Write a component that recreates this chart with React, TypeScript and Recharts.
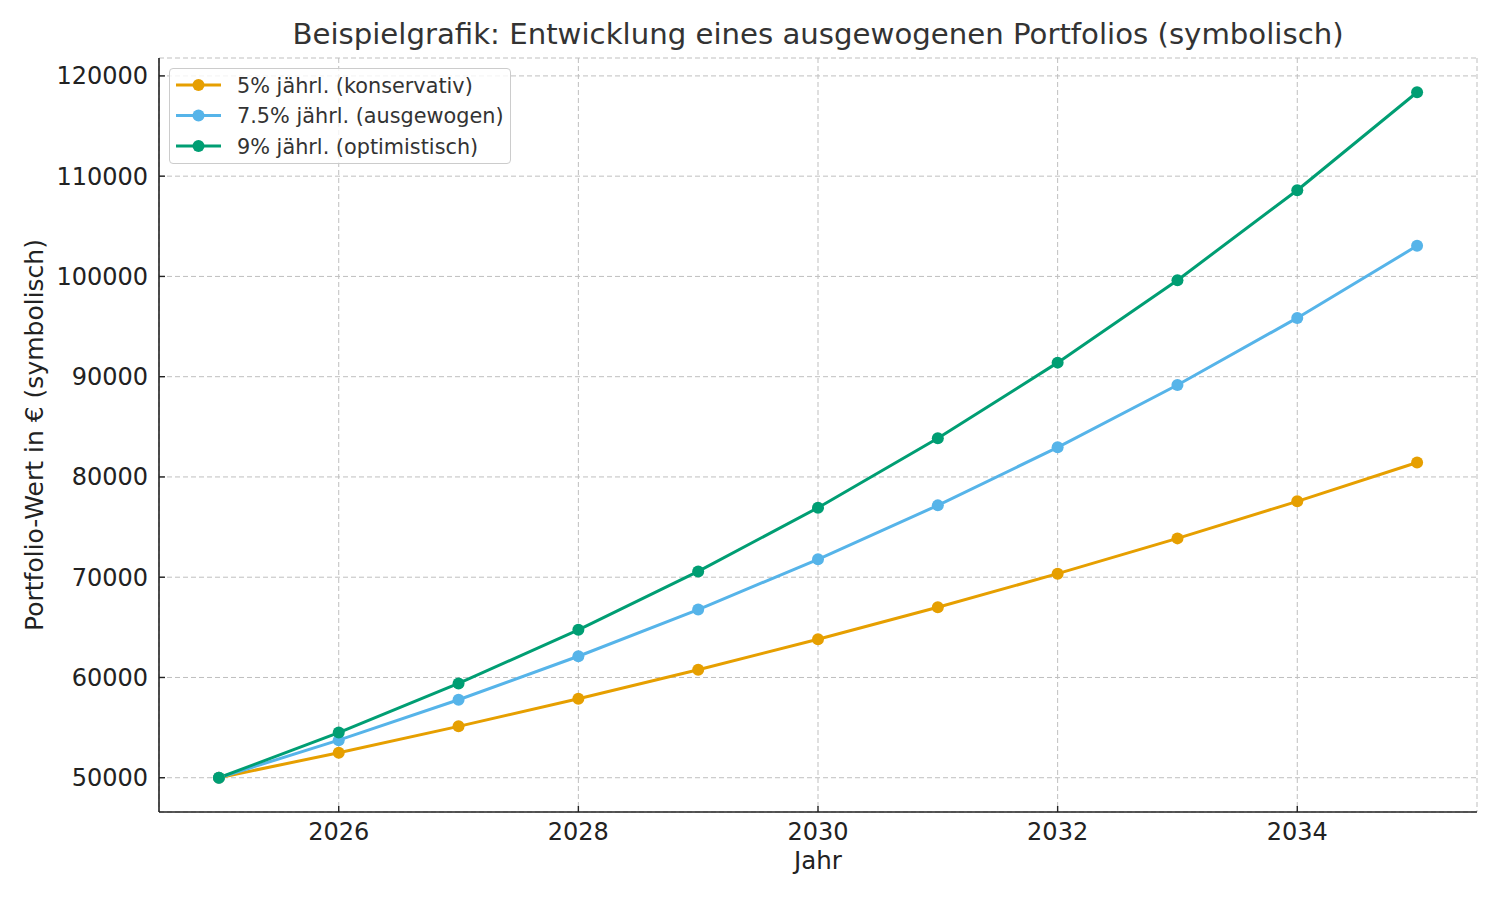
import React from "react";
import { LineChart, Line, XAxis, YAxis, CartesianGrid, Legend, Label } from "recharts";

const years = [2025, 2026, 2027, 2028, 2029, 2030, 2031, 2032, 2033, 2034, 2035];
const conservative = [50000, 52500, 55125, 57881, 60775, 63814, 67005, 70355, 73873, 77566, 81445];
const balanced = [50000, 53750, 57781, 62115, 66773, 71781, 77165, 82952, 89174, 95862, 103051];
const optimistic = [50000, 54500, 59405, 64751, 70579, 76931, 83855, 91402, 99628, 108595, 118368];

const xTicks = [2026, 2028, 2030, 2032, 2034];
const yTicks = [50000, 60000, 70000, 80000, 90000, 100000, 110000, 120000];

const seriesNames = ["5% jährl. (konservativ)", "7.5% jährl. (ausgewogen)", "9% jährl. (optimistisch)"];
const seriesKeys = ["conservative", "balanced", "optimistic"];
const seriesColors = ["#E69F00", "#56B4E9", "#009E73"];

const title = "Beispielgrafik: Entwicklung eines ausgewogenen Portfolios (symbolisch)";
const xLabel = "Jahr";
const yLabel = "Portfolio-Wert in € (symbolisch)";

const data = years.map((year, i) => ({
  year,
  conservative: conservative[i],
  balanced: balanced[i],
  optimistic: optimistic[i],
}));

const FONT = "'DejaVu Sans', sans-serif";

const LegendBox = () => (
  <div
    style={{
      width: 340,
      height: 94,
      border: "1px solid #cccccc",
      borderRadius: 4,
      background: "rgba(255,255,255,0.8)",
      boxSizing: "content-box",
    }}
  >
    <svg width={340} height={94} style={{ display: "block" }}>
      {seriesNames.map((name, i) => {
        const cy = 16 + i * 30.5;
        return (
          <g key={name}>
            <line x1={6} x2={51} y1={cy} y2={cy} stroke={seriesColors[i]} strokeWidth={3} />
            <circle cx={28.5} cy={cy} r={6} fill={seriesColors[i]} />
            <text x={67} y={cy + 7.5} fontSize={20.8} fill="#333333" fontFamily={FONT}>
              {name}
            </text>
          </g>
        );
      })}
    </svg>
  </div>
);

const YLabelContent = (props: any) => {
  const vb = props.viewBox || { x: 0, y: 58, width: 159, height: 754 };
  const cx = vb.x + 34;
  const cy = vb.y + vb.height / 2;
  return (
    <text
      x={cx}
      y={cy}
      transform={`rotate(-90 ${cx} ${cy})`}
      textAnchor="middle"
      dominantBaseline="central"
      fontSize={25}
      fill="#222222"
      fontFamily={FONT}
    >
      {yLabel}
    </text>
  );
};

const XLabelContent = (props: any) => {
  const vb = props.viewBox || { x: 159, y: 812, width: 1318, height: 60 };
  return (
    <text
      x={vb.x + vb.width / 2}
      y={vb.y + 57}
      textAnchor="middle"
      fontSize={24.5}
      fill="#222222"
      fontFamily={FONT}
    >
      {xLabel}
    </text>
  );
};

export default function App() {
  return (
    <div style={{ position: "absolute", left: 0, top: 0, width: 1500, height: 900, background: "#fff", fontFamily: FONT }}>
      <svg width={1500} height={60} style={{ position: "absolute", left: 0, top: 0 }}>
        <text x={818} y={44} textAnchor="middle" fontSize={29.2} fill="#333333" fontFamily={FONT}>
          {title}
        </text>
      </svg>
      <div style={{ position: "absolute", left: 0, top: 0 }}>
        <LineChart width={1500} height={900} data={data} margin={{ top: 58, right: 23, bottom: 28, left: 0 }}>
          <CartesianGrid stroke="#bfbfbf" strokeDasharray="5 3" strokeWidth={1} />
          <XAxis
            dataKey="year"
            type="number"
            domain={[2024.5, 2035.5]}
            allowDataOverflow
            ticks={xTicks}
            height={60}
            tickSize={-6}
            tickMargin={17}
            stroke="#222222"
            strokeWidth={1.6}
            tick={{ fontSize: 24, fill: "#222222", fontFamily: FONT }}
            tickLine={{ stroke: "#222222", strokeWidth: 1.4 }}
          >
            <Label content={XLabelContent} />
          </XAxis>
          <YAxis
            type="number"
            domain={[46582, 121786]}
            allowDataOverflow
            ticks={yTicks}
            width={159}
            tickSize={-6}
            tickMargin={17}
            stroke="#222222"
            strokeWidth={1.6}
            tick={{ fontSize: 24, fill: "#222222", fontFamily: FONT }}
            tickLine={{ stroke: "#222222", strokeWidth: 1.4 }}
          >
            <Label content={YLabelContent} />
          </YAxis>
          <Legend
            layout="horizontal"
            verticalAlign="middle"
            align="center"
            wrapperStyle={{ left: 169, top: 68, width: "auto", height: "auto" }}
            content={() => <LegendBox />}
          />
          {seriesKeys.map((key, i) => (
            <Line
              key={key}
              type="linear"
              dataKey={key}
              name={seriesNames[i]}
              stroke={seriesColors[i]}
              strokeWidth={3}
              dot={{ r: 6, fill: seriesColors[i], stroke: seriesColors[i], strokeWidth: 0 }}
              activeDot={false}
              isAnimationActive={false}
            />
          ))}
        </LineChart>
      </div>
    </div>
  );
}
